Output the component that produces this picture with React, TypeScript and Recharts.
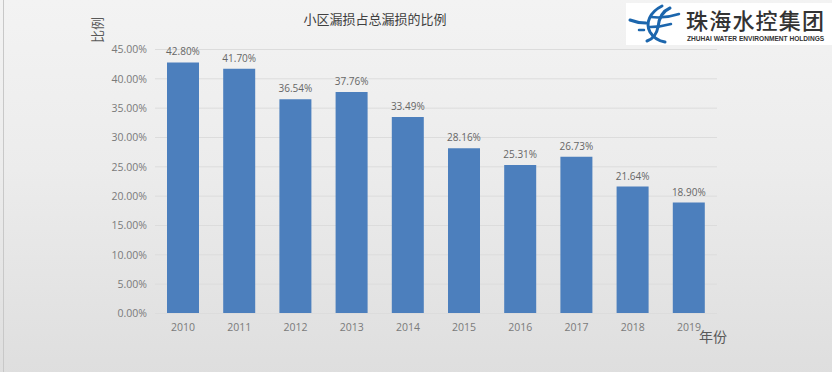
import { Bar, BarChart, CartesianGrid, LabelList, XAxis, YAxis } from "recharts"

const years = ["2010", "2011", "2012", "2013", "2014", "2015", "2016", "2017", "2018", "2019"]
const ratios = [42.8, 41.7, 36.54, 37.76, 33.49, 28.16, 25.31, 26.73, 21.64, 18.9]
const yTicks = [0, 5, 10, 15, 20, 25, 30, 35, 40, 45]

const data = years.map((year, i) => ({ year, ratio: ratios[i] }))

const LATIN = "'Open Sans', 'Noto Sans', sans-serif"
const CJK = "'Noto Sans CJK SC', sans-serif"
const pct = (v: number) => `${v.toFixed(2)}%`

function Logo() {
  return (
    <div style={{ position: "absolute", left: 626, top: 3, width: 206, height: 42, background: "#fff" }}>
      <svg width={56} height={42} style={{ position: "absolute", left: 0, top: 0 }}>
        <g fill="none" stroke="#1c66ad" strokeLinecap="round">
          <path d="M4 17 C9 19 14 20 20 20" strokeWidth={3} />
          <path d="M13 27 H18" strokeWidth={2.5} />
          <path d="M36 3 C24 9 19 20 24 29 C27 34 33 38 39 39" strokeWidth={3} />
          <path d="M44 5 C37 8 33 14 32 24 C31 30 27 36 21 38" strokeWidth={3} />
          <path d="M25 14 C34 15 44 14 53 11" strokeWidth={2.5} />
          <path d="M24 24 C30 24 38 23 45 21" strokeWidth={2.5} />
        </g>
      </svg>
      <div style={{ position: "absolute", left: 60, top: 4, fontFamily: CJK, fontSize: 22, lineHeight: "24px", letterSpacing: 1.2, color: "#333", fontWeight: 500, whiteSpace: "nowrap" }}>
        珠海水控集团
      </div>
      <div style={{ position: "absolute", left: 61, top: 32, fontFamily: "'Liberation Sans', sans-serif", fontSize: 6.6, lineHeight: "8px", fontWeight: 700, color: "#333", whiteSpace: "nowrap" }}>
        ZHUHAI WATER ENVIRONMENT HOLDINGS
      </div>
    </div>
  )
}

export default function App() {
  return (
    <div
      style={{
        position: "absolute",
        left: 0,
        top: 0,
        width: 832,
        height: 376,
        overflow: "hidden",
        background: "linear-gradient(180deg, #f3f3f3 0%, #ececec 45%, #dedede 100%)",
      }}
    >
      <div style={{ position: "absolute", left: 3, top: 0, width: 1, height: 372, background: "#c8c8c8" }} />
      <div style={{ position: "absolute", left: 0, top: 372, width: 832, height: 4, background: "#fff" }} />
      <BarChart width={832} height={376} data={data} margin={{ top: 49.5, right: 115, bottom: 0, left: 0 }} barSize={32}>
        <CartesianGrid vertical={false} stroke="#dcdcdc" strokeWidth={1} />
        <XAxis
          dataKey="year"
          height={62.5}
          axisLine={{ stroke: "#dcdcdc" }}
          tickLine={false}
          tick={{ fontFamily: LATIN, fontSize: 10.5, fill: "#7a7a7a" }}
          tickMargin={4}
        />
        <YAxis
          width={155}
          domain={[0, 45]}
          ticks={yTicks}
          tickFormatter={pct}
          axisLine={false}
          tickLine={false}
          tick={{ fontFamily: LATIN, fontSize: 10.5, fill: "#7a7a7a" }}
          tickMargin={2}
        />
        <Bar dataKey="ratio" fill="#4c7fbd" isAnimationActive={false}>
          <LabelList dataKey="ratio" position="top" offset={7} formatter={pct} style={{ fontFamily: LATIN, fontSize: 10, fill: "#666" }} />
        </Bar>
      </BarChart>
      <div style={{ position: "absolute", left: 255, width: 240, top: 9, textAlign: "center", fontFamily: CJK, fontSize: 13, lineHeight: "20px", color: "#404040" }}>
        小区漏损占总漏损的比例
      </div>
      <div style={{ position: "absolute", left: 67, width: 60, top: 20, textAlign: "center", transform: "rotate(-90deg)", fontFamily: CJK, fontSize: 13, lineHeight: "20px", color: "#595959" }}>
        比例
      </div>
      <div style={{ position: "absolute", left: 699, top: 326, fontFamily: CJK, fontSize: 14, lineHeight: "20px", color: "#595959" }}>年份</div>
      <Logo />
    </div>
  )
}
